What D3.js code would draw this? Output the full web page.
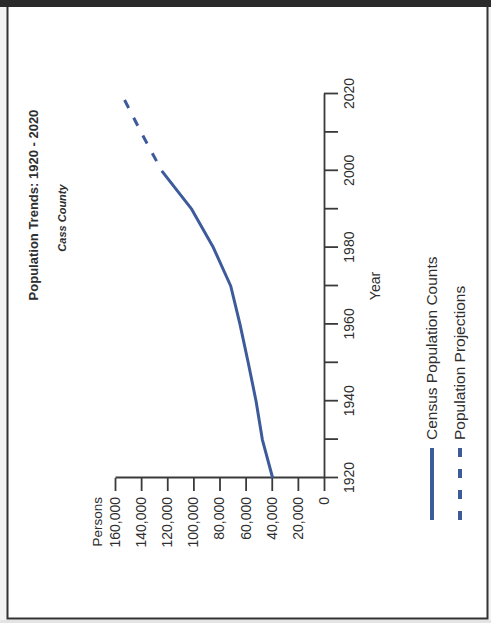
<!DOCTYPE html>
<html>
<head>
<meta charset="utf-8">
<script src="https://cdn.jsdelivr.net/npm/d3@7"></script>
<style>
  html, body { margin: 0; padding: 0; background: #ffffff; }
  svg { display: block; font-family: Arial, "Liberation Sans", sans-serif; }
</style>
</head>
<body>
<svg id="chart" width="491" height="623"></svg>
<script>
// ---- data ----
const censusYears = [1920, 1930, 1940, 1950, 1960, 1970, 1980, 1990, 2000];
const censusCounts = [39300, 47200, 52000, 58000, 64300, 71400, 84700, 101300, 124200];
const projectionYears = [2000, 2010, 2020];
const projectionCounts = [124200, 140000, 155000];
const decadeTicks = [1920, 1930, 1940, 1950, 1960, 1970, 1980, 1990, 2000, 2010, 2020];
const yearLabels = [1920, 1940, 1960, 1980, 2000, 2020];
const valueTicks = [0, 20000, 40000, 60000, 80000, 100000, 120000, 140000, 160000];
const legendLabels = ["Census Population Counts", "Population Projections"];
const titleText = "Population Trends: 1920 - 2020";
const subtitleText = "Cass County";

const lineColor = "#3d5b9b";
const axisColor = "#3a3a3a";
const textColor = "#2e2e2e";

const svg = d3.select("#chart");

// page frame
svg.append("rect").attr("x", 0).attr("y", 0).attr("width", 491).attr("height", 623).attr("fill", "#f3f3f3");
svg.append("rect").attr("x", 8).attr("y", 6).attr("width", 479).attr("height", 612).attr("fill", "#ffffff");
svg.append("rect").attr("x", 0).attr("y", 0).attr("width", 491).attr("height", 7).attr("fill", "#2a2a2a");
svg.append("path").attr("d", "M7.5,7 V618.5 H487.5 V7")
  .attr("fill", "none").attr("stroke", "#333").attr("stroke-width", 2);
svg.append("rect").attr("x", 0).attr("y", 620).attr("width", 491).attr("height", 3).attr("fill", "#e4e4e4");

// rotated chart group: u (horizontal in chart frame) -> screen up, v -> screen right
const g = svg.append("g").attr("transform", "translate(0,623) rotate(-90)");

const x = d3.scaleLinear().domain([1920, 2020]).range([145, 529]);
const y = d3.scaleLinear().domain([0, 160000]).range([324, 115]);

const xAxis = d3.axisBottom(x)
  .tickValues(decadeTicks)
  .tickSize(14).tickSizeOuter(0).tickPadding(6)
  .tickFormat(d => yearLabels.includes(d) ? String(d) : "");
const yAxis = d3.axisLeft(y)
  .tickValues(valueTicks)
  .tickSize(13).tickSizeOuter(0).tickPadding(6)
  .tickFormat(d3.format(","));

const gx = g.append("g").attr("transform", "translate(0,324)").call(xAxis);
const gy = g.append("g").attr("transform", "translate(145,0)").call(yAxis);
[gx, gy].forEach(a => {
  a.selectAll("path, line").attr("stroke", axisColor).attr("stroke-width", 1.8);
  a.selectAll("text").attr("fill", textColor).style("font-size", "14px")
    .style("font-family", "Arial, 'Liberation Sans', sans-serif");
});

// axis titles
g.append("text").attr("x", 126).attr("y", 102).attr("text-anchor", "end")
  .attr("fill", textColor).style("font-size", "13.5px").text("Persons");
g.append("text").attr("x", (x(1920) + x(2020)) / 2).attr("y", 380).attr("text-anchor", "middle")
  .attr("fill", textColor).style("font-size", "14px").text("Year");

// titles
g.append("text").attr("x", 418).attr("y", 38).attr("text-anchor", "middle")
  .attr("fill", textColor).style("font-size", "13px").style("font-weight", "bold").text(titleText);
g.append("text").attr("x", 405).attr("y", 66).attr("text-anchor", "middle")
  .attr("fill", textColor).style("font-size", "11px").style("font-weight", "bold").style("font-style", "italic")
  .text(subtitleText);

// lines
const line = d3.line().x(d => x(d[0])).y(d => y(d[1]));
g.append("path").datum(censusYears.map((yr, i) => [yr, censusCounts[i]]))
  .attr("d", line).attr("fill", "none").attr("stroke", lineColor)
  .attr("stroke-width", 3).attr("stroke-linejoin", "round").attr("stroke-linecap", "butt");
g.append("path").datum(projectionYears.map((yr, i) => [yr, projectionCounts[i]]))
  .attr("d", line).attr("fill", "none").attr("stroke", lineColor)
  .attr("stroke-width", 3).attr("stroke-dasharray", "9,11").attr("stroke-dashoffset", 9);

// legend
const legend = g.append("g");
const legendV = [432, 460];
legendLabels.forEach((lab, i) => {
  legend.append("line").attr("x1", 103).attr("x2", 175).attr("y1", legendV[i]).attr("y2", legendV[i])
    .attr("stroke", lineColor).attr("stroke-width", 4)
    .attr("stroke-dasharray", i === 1 ? "9,12" : null);
  legend.append("text").attr("x", 183).attr("y", legendV[i] + 5)
    .attr("fill", textColor).style("font-size", "15.5px").text(lab);
});
</script>
</body>
</html>
